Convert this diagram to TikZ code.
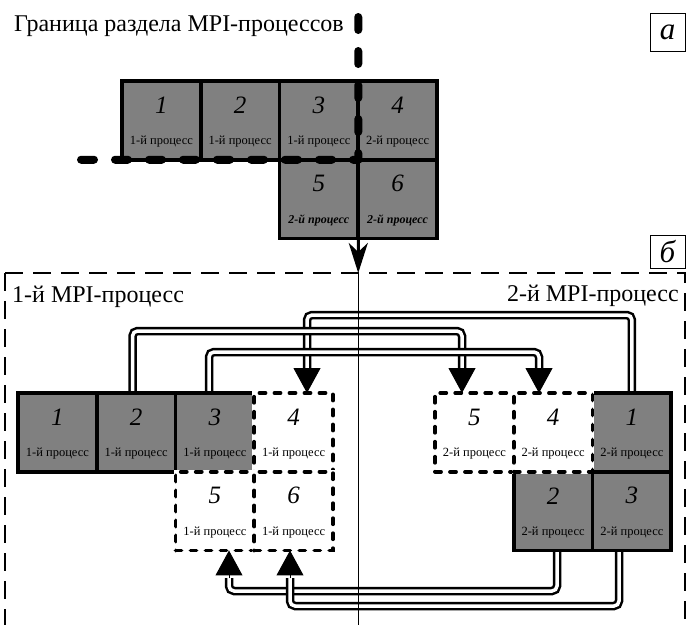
\documentclass[tikz,border=0pt]{standalone}
\usepackage{fontspec}
\setmainfont{Liberation Serif}
\usetikzlibrary{arrows.meta}
\definecolor{cellgray}{RGB}{128,128,128}
\newcommand\mkcell[7]{%
  \node[#4] (#1) at (#2,#3) {};
  \node[dig] (#1d) at ([yshift=-24pt]#1.north) {#5};
  \node[lab,#7] (#1l) at ([yshift=-61pt]#1.north) {#6};
}
\begin{document}
\begin{tikzpicture}[x=1pt,y=-1pt,
  cellbase/.style={minimum width=78.75pt, minimum height=78.75pt, inner sep=0pt, outer sep=0pt, line width=3.8pt},
  solidcell/.style={cellbase, draw=black, fill=cellgray},
  dashcell/.style={cellbase, draw=black, fill=white, dash pattern=on 6pt off 9pt, line cap=round,
    preaction={draw=white, solid, line cap=butt, line width=3.8pt}},
  dig/.style={font=\fontsize{25}{27}\selectfont\itshape, inner sep=0pt},
  lab/.style={font=\fontsize{12.5}{13}\selectfont, inner sep=0pt},
  bi/.style={font=\fontsize{12}{13}\selectfont\bfseries\itshape},
  big/.style={font=\fontsize{24}{26}\selectfont, inner sep=0pt},
  tag/.style={draw=black, line width=0.8pt, minimum width=35pt, inner sep=0pt, font=\fontsize{31}{31}\selectfont\itshape},
  boundary/.style={line width=8pt, line cap=round, dash pattern=on 13pt off 21pt},
  panel/.style={line width=1.2pt, dash pattern=on 18pt off 10pt},
  dbl/.style={draw=black, line width=2.5pt, double=white, double distance=3.5pt, rounded corners=5pt},
  arr/.style={line width=1pt, -{Triangle[width=27pt,length=25pt]}},
]
\useasboundingbox (0,0) rectangle (687,624);

% texts
\node[big, anchor=base west] (title) at (14,31.5) {Граница раздела MPI-процессов};
\node[big, anchor=base west] (p1) at (12,302) {1-й MPI-процесс};
\node[big, anchor=base east] (p2) at (679,301) {2-й MPI-процесс};
\node[tag, minimum height=38pt] (la) at (667.5,32.5) {а};
\node[tag, minimum height=33pt] (lb) at (667.5,251.5) {б};

% panel б frame
\coordinate (fr) at (5,273);
\draw[panel] (fr) -- (5,630);
\draw[panel] (fr) -- (685,273) -- (685,630);

% top (a) cells
\mkcell{T1}{161.4}{120.4}{solidcell}{1}{1-й процесс}{}
\mkcell{T2}{240.1}{120.4}{solidcell}{2}{1-й процесс}{}
\mkcell{T3}{318.9}{120.4}{solidcell}{3}{1-й процесс}{}
\mkcell{T4}{397.6}{120.4}{solidcell}{4}{2-й процесс}{}
\mkcell{T5}{318.9}{199.1}{solidcell}{5}{2-й процесс}{bi}
\mkcell{T6}{397.6}{199.1}{solidcell}{6}{2-й процесс}{bi}

% boundary of MPI partition
\coordinate (bv) at (358.25,17);
\coordinate (bh) at (81,159.75);
\draw[boundary] (bv) -- (T3.north east |- T3.south east);
\draw[boundary] (bh) -- (T3.south east);

% arrow a -> б
\coordinate (split) at (358.25,273);
\draw[line width=3pt, -{Stealth[length=30pt,width=19pt,inset=9pt]}] (T5.south east) -- (split);

% connectors (bottom panel)
\draw[dbl] (631.9,393) |- (307,315) -- (307,368);
\draw[dbl] (132.5,393) |- (462,331) -- (462,368);
\draw[dbl] (209,393) |- (539,352) -- (539,368);
\draw[dbl] (557,550.5) |- (229,591) -- (229,578);
\draw[dbl] (619,550.5) |- (290,606) -- (290,578);

% split line
\draw[line width=1.2pt] (split) -- (358.25,630);

% bottom left cells
\mkcell{L1}{57.4}{432.4}{solidcell}{1}{1-й процесс}{}
\mkcell{L2}{136.1}{432.4}{solidcell}{2}{1-й процесс}{}
\mkcell{L3}{214.9}{432.4}{solidcell}{3}{1-й процесс}{}
\mkcell{L4}{293.6}{432.4}{dashcell}{4}{1-й процесс}{}
\mkcell{L5}{214.9}{511.1}{dashcell}{5}{1-й процесс}{}
\mkcell{L6}{293.6}{511.1}{dashcell}{6}{1-й процесс}{}

% bottom right cells
\mkcell{R1}{631.9}{432.4}{solidcell}{1}{2-й процесс}{}
\mkcell{R2}{553.1}{511.1}{solidcell}{2}{2-й процесс}{}
\mkcell{R3}{631.9}{511.1}{solidcell}{3}{2-й процесс}{}
\mkcell{R5}{474.4}{432.4}{dashcell}{5}{2-й процесс}{}
\mkcell{R4}{553.1}{432.4}{dashcell}{4}{2-й процесс}{}

% arrowheads
\draw[arr] ([xshift=13.4pt,yshift=25pt]L4.north) -- ([xshift=13.4pt]L4.north);
\draw[arr] ([xshift=-12.4pt,yshift=25pt]R5.north) -- ([xshift=-12.4pt]R5.north);
\draw[arr] ([xshift=-14.1pt,yshift=25pt]R4.north) -- ([xshift=-14.1pt]R4.north);
\draw[arr] ([xshift=14.1pt,yshift=-28pt]L5.south) -- ([xshift=14.1pt]L5.south);
\draw[arr] ([xshift=-3.6pt,yshift=-28pt]L6.south) -- ([xshift=-3.6pt]L6.south);
\end{tikzpicture}
\end{document}
